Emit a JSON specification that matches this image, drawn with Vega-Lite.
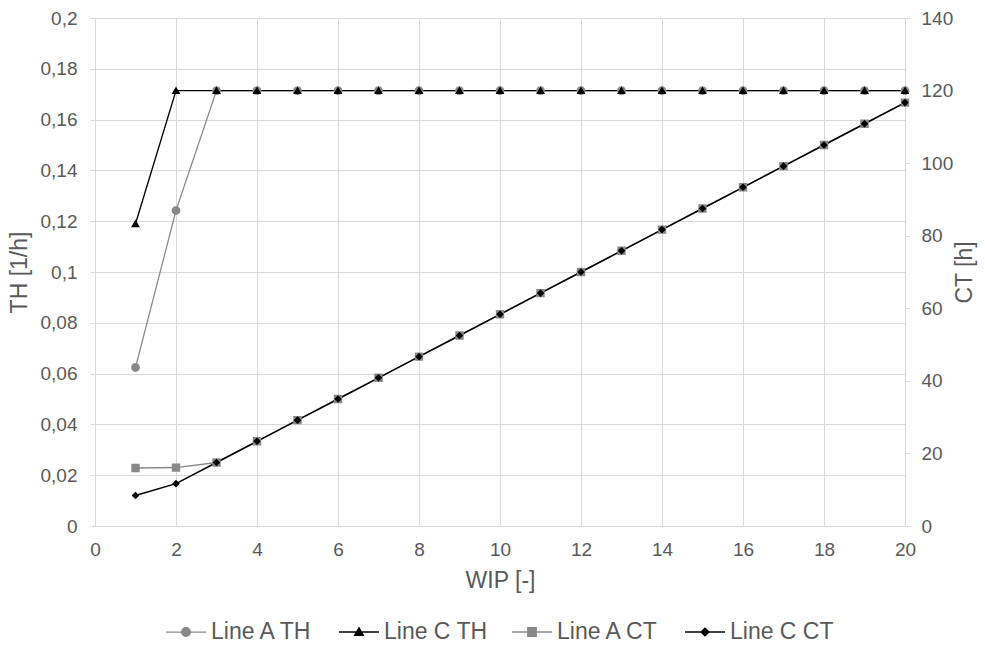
{
  "$schema": "https://vega.github.io/schema/vega-lite/v6.json",
  "width": 810,
  "height": 508,
  "autosize": {"type": "none"},
  "padding": {"left": 95, "top": 18, "right": 80, "bottom": 120},
  "background": "white",
  "config": {
    "view": {"stroke": null},
    "font": "Liberation Sans",
    "axis": {
      "labelFont": "Liberation Sans",
      "labelFontSize": 19,
      "labelColor": "#595959",
      "titleFont": "Liberation Sans",
      "titleFontSize": 23,
      "titleColor": "#595959",
      "titleFontWeight": "normal",
      "domainColor": "#d9d9d9",
      "tickColor": "#d9d9d9",
      "gridColor": "#d9d9d9",
      "gridWidth": 1
    },
    "legend": {
      "symbolSize": 1600,
      "symbolStrokeWidth": 1.5,
      "symbolOpacity": 1,
      "labelFont": "Liberation Sans",
      "labelFontSize": 23,
      "labelColor": "#595959",
      "labelOffset": 4,
      "padding": 0
    }
  },
  "datasets": {
    "th": [
      {"wip": 1, "series": "Line A TH", "th": 0.0624},
      {"wip": 2, "series": "Line A TH", "th": 0.1242},
      {"wip": 3, "series": "Line A TH", "th": 0.1714},
      {"wip": 4, "series": "Line A TH", "th": 0.1714},
      {"wip": 5, "series": "Line A TH", "th": 0.1714},
      {"wip": 6, "series": "Line A TH", "th": 0.1714},
      {"wip": 7, "series": "Line A TH", "th": 0.1714},
      {"wip": 8, "series": "Line A TH", "th": 0.1714},
      {"wip": 9, "series": "Line A TH", "th": 0.1714},
      {"wip": 10, "series": "Line A TH", "th": 0.1714},
      {"wip": 11, "series": "Line A TH", "th": 0.1714},
      {"wip": 12, "series": "Line A TH", "th": 0.1714},
      {"wip": 13, "series": "Line A TH", "th": 0.1714},
      {"wip": 14, "series": "Line A TH", "th": 0.1714},
      {"wip": 15, "series": "Line A TH", "th": 0.1714},
      {"wip": 16, "series": "Line A TH", "th": 0.1714},
      {"wip": 17, "series": "Line A TH", "th": 0.1714},
      {"wip": 18, "series": "Line A TH", "th": 0.1714},
      {"wip": 19, "series": "Line A TH", "th": 0.1714},
      {"wip": 20, "series": "Line A TH", "th": 0.1714},
      {"wip": 1, "series": "Line C TH", "th": 0.119},
      {"wip": 2, "series": "Line C TH", "th": 0.1714},
      {"wip": 3, "series": "Line C TH", "th": 0.1714},
      {"wip": 4, "series": "Line C TH", "th": 0.1714},
      {"wip": 5, "series": "Line C TH", "th": 0.1714},
      {"wip": 6, "series": "Line C TH", "th": 0.1714},
      {"wip": 7, "series": "Line C TH", "th": 0.1714},
      {"wip": 8, "series": "Line C TH", "th": 0.1714},
      {"wip": 9, "series": "Line C TH", "th": 0.1714},
      {"wip": 10, "series": "Line C TH", "th": 0.1714},
      {"wip": 11, "series": "Line C TH", "th": 0.1714},
      {"wip": 12, "series": "Line C TH", "th": 0.1714},
      {"wip": 13, "series": "Line C TH", "th": 0.1714},
      {"wip": 14, "series": "Line C TH", "th": 0.1714},
      {"wip": 15, "series": "Line C TH", "th": 0.1714},
      {"wip": 16, "series": "Line C TH", "th": 0.1714},
      {"wip": 17, "series": "Line C TH", "th": 0.1714},
      {"wip": 18, "series": "Line C TH", "th": 0.1714},
      {"wip": 19, "series": "Line C TH", "th": 0.1714},
      {"wip": 20, "series": "Line C TH", "th": 0.1714}
    ],
    "ct": [
      {"wip": 1, "series": "Line A CT", "ct": 16.0},
      {"wip": 2, "series": "Line A CT", "ct": 16.1},
      {"wip": 3, "series": "Line A CT", "ct": 17.5},
      {"wip": 4, "series": "Line A CT", "ct": 23.34},
      {"wip": 5, "series": "Line A CT", "ct": 29.17},
      {"wip": 6, "series": "Line A CT", "ct": 35.0},
      {"wip": 7, "series": "Line A CT", "ct": 40.84},
      {"wip": 8, "series": "Line A CT", "ct": 46.67},
      {"wip": 9, "series": "Line A CT", "ct": 52.5},
      {"wip": 10, "series": "Line A CT", "ct": 58.34},
      {"wip": 11, "series": "Line A CT", "ct": 64.17},
      {"wip": 12, "series": "Line A CT", "ct": 70.0},
      {"wip": 13, "series": "Line A CT", "ct": 75.84},
      {"wip": 14, "series": "Line A CT", "ct": 81.68},
      {"wip": 15, "series": "Line A CT", "ct": 87.5},
      {"wip": 16, "series": "Line A CT", "ct": 93.34},
      {"wip": 17, "series": "Line A CT", "ct": 99.18},
      {"wip": 18, "series": "Line A CT", "ct": 105.0},
      {"wip": 19, "series": "Line A CT", "ct": 110.85},
      {"wip": 20, "series": "Line A CT", "ct": 116.68},
      {"wip": 1, "series": "Line C CT", "ct": 8.4},
      {"wip": 2, "series": "Line C CT", "ct": 11.67},
      {"wip": 3, "series": "Line C CT", "ct": 17.5},
      {"wip": 4, "series": "Line C CT", "ct": 23.34},
      {"wip": 5, "series": "Line C CT", "ct": 29.17},
      {"wip": 6, "series": "Line C CT", "ct": 35.0},
      {"wip": 7, "series": "Line C CT", "ct": 40.84},
      {"wip": 8, "series": "Line C CT", "ct": 46.67},
      {"wip": 9, "series": "Line C CT", "ct": 52.5},
      {"wip": 10, "series": "Line C CT", "ct": 58.34},
      {"wip": 11, "series": "Line C CT", "ct": 64.17},
      {"wip": 12, "series": "Line C CT", "ct": 70.0},
      {"wip": 13, "series": "Line C CT", "ct": 75.84},
      {"wip": 14, "series": "Line C CT", "ct": 81.68},
      {"wip": 15, "series": "Line C CT", "ct": 87.5},
      {"wip": 16, "series": "Line C CT", "ct": 93.34},
      {"wip": 17, "series": "Line C CT", "ct": 99.18},
      {"wip": 18, "series": "Line C CT", "ct": 105.0},
      {"wip": 19, "series": "Line C CT", "ct": 110.85},
      {"wip": 20, "series": "Line C CT", "ct": 116.68}
    ]
  },
  "layer": [
    {
      "data": {"name": "th"},
      "encoding": {
        "x": {
          "field": "wip",
          "type": "quantitative",
          "scale": {"domain": [0, 20], "nice": false, "zero": false},
          "axis": {
            "title": "WIP [-]",
            "values": [0, 2, 4, 6, 8, 10, 12, 14, 16, 18, 20],
            "grid": true,
            "ticks": false,
            "tickSize": 0,
            "labelPadding": 14,
            "titlePadding": 10,
            "labelFlush": false
          }
        },
        "y": {
          "field": "th",
          "type": "quantitative",
          "scale": {"domain": [0, 0.2], "nice": false},
          "axis": {
            "orient": "left",
            "title": "TH [1/h]",
            "values": [0, 0.02, 0.04, 0.06, 0.08, 0.1, 0.12, 0.14, 0.16, 0.18, 0.2],
            "labelExpr": "replace(format(datum.value, '.2~f'), '.', ',')",
            "grid": true,
            "tickSize": 5,
            "labelPadding": 13,
            "titlePadding": 9,
            "labelFlush": false
          }
        },
        "color": {
          "field": "series",
          "type": "nominal",
          "scale": {
            "domain": ["Line A TH", "Line C TH", "Line A CT", "Line C CT"],
            "range": ["#888888", "#000000", "#888888", "#000000"]
          },
          "legend": {
            "orient": "none",
            "legendX": 70,
            "legendY": 593,
            "direction": "horizontal",
            "columns": 4,
            "gridAlign": "all",
            "columnPadding": 21,
            "title": null,
            "padding": 0,
            "symbolSize": 1600,
            "symbolStrokeWidth": 1.5,
            "symbolOpacity": 1,
            "labelFontSize": 23,
            "labelOffset": 4
          }
        }
      },
      "layer": [
        {
          "mark": {"type": "line"},
          "encoding": {
            "strokeWidth": {
              "field": "series",
              "type": "nominal",
              "scale": {"domain": ["Line A TH", "Line C TH", "Line A CT", "Line C CT"], "range": [1.25, 1.5, 1.25, 1.5]},
              "legend": null
            }
          }
        },
        {
          "mark": {"type": "point", "filled": true, "opacity": 1, "size": 1600},
          "encoding": {
            "shape": {
              "field": "series",
              "type": "nominal",
              "scale": {
                "domain": ["Line A TH", "Line C TH", "Line A CT", "Line C CT"],
                "range": [
                  "M-1,0H1M0.22,0C0.22,0.1215 0.1215,0.22 0,0.22C-0.1215,0.22 -0.22,0.1215 -0.22,0C-0.22,-0.1215 -0.1215,-0.22 0,-0.22C0.1215,-0.22 0.22,-0.1215 0.22,0Z",
                  "M-1,0H1M0,-0.21L0.22,0.17L-0.22,0.17Z",
                  "M-1,0H1M-0.21,-0.21H0.21V0.21H-0.21Z",
                  "M-1,0H1M0,-0.19L0.19,0L0,0.19L-0.19,0Z"
                ]
              }
            }
          }
        }
      ]
    },
    {
      "data": {"name": "ct"},
      "encoding": {
        "x": {"field": "wip", "type": "quantitative"},
        "y": {
          "field": "ct",
          "type": "quantitative",
          "scale": {"domain": [0, 140], "nice": false},
          "axis": {
            "orient": "right",
            "title": "CT [h]",
            "titleAngle": 270,
            "values": [0, 20, 40, 60, 80, 100, 120, 140],
            "grid": false,
            "tickSize": 5,
            "labelPadding": 11,
            "titlePadding": 24,
            "labelFlush": false
          }
        },
        "color": {"field": "series", "type": "nominal"}
      },
      "layer": [
        {
          "mark": {"type": "line"},
          "encoding": {
            "strokeWidth": {"field": "series", "type": "nominal", "legend": null}
          }
        },
        {
          "mark": {"type": "point", "filled": true, "opacity": 1, "size": 1600},
          "encoding": {
            "shape": {"field": "series", "type": "nominal"}
          }
        }
      ]
    }
  ],
  "resolve": {"scale": {"y": "independent"}, "axis": {"y": "independent"}}
}
